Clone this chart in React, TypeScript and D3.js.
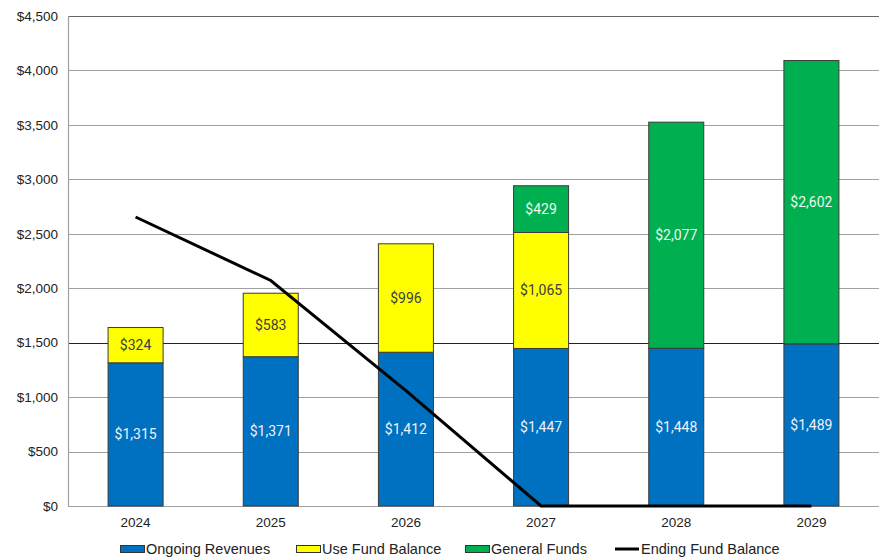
import { useEffect, useRef } from 'react';
import * as d3 from 'd3';

const years = ['2024', '2025', '2026', '2027', '2028', '2029'];
const ongoingRevenues = [1315, 1371, 1412, 1447, 1448, 1489];
const useFundBalance = [324, 583, 996, 1065, 0, 0];
const generalFunds = [0, 0, 0, 429, 2077, 2602];
const endingFundBalance = [2654, 2071, 1060, 0, 0, 0];
const yTicks = [0, 500, 1000, 1500, 2000, 2500, 3000, 3500, 4000, 4500];

const W = 884, H = 558;
const M = { left: 68, right: 5, top: 16, bottom: 52 };
const FONT = '"Liberation Sans", Arial, sans-serif';
const LABEL_FONT = 'Roboto, "Noto Sans", sans-serif';

const SERIES = [
  { name: 'Ongoing Revenues', values: ongoingRevenues, color: '#0070C0', text: '#eef2f8' },
  { name: 'Use Fund Balance', values: useFundBalance, color: '#FFFF00', text: '#404040' },
  { name: 'General Funds', values: generalFunds, color: '#00B050', text: '#eef6ee' },
];

export default function App() {
  const svgRef = useRef<SVGSVGElement | null>(null);

  useEffect(() => {
    const svg = d3.select(svgRef.current);
    svg.selectAll('*').remove();

    const x = d3
      .scaleBand<string>()
      .domain(years)
      .range([M.left, W - M.right])
      .paddingInner(0.593)
      .paddingOuter(0.2965);
    const y = d3.scaleLinear().domain([0, 4500]).range([H - M.bottom, M.top]);

    // gridlines
    svg
      .append('g')
      .selectAll('line')
      .data(yTicks)
      .join('line')
      .attr('x1', M.left)
      .attr('x2', W - M.right)
      .attr('y1', (d) => Math.round(y(d)) + 0.5)
      .attr('y2', (d) => Math.round(y(d)) + 0.5)
      .attr('stroke', (d) => (d === 1500 ? '#222' : d === 4500 ? '#666' : '#a0a0a0'))
      .attr('stroke-width', 1.2);

    svg
      .append('line')
      .attr('x1', M.left + 0.5)
      .attr('x2', M.left + 0.5)
      .attr('y1', y(4500))
      .attr('y2', y(0))
      .attr('stroke', '#a0a0a0')
      .attr('stroke-width', 1.2);

    // y tick labels
    svg
      .append('g')
      .selectAll('text')
      .data(yTicks)
      .join('text')
      .attr('x', M.left - 10)
      .attr('y', (d) => y(d))
      .attr('dy', '0.35em')
      .attr('text-anchor', 'end')
      .attr('font-family', FONT)
      .attr('font-size', 13.5)
      .attr('fill', '#222')
      .text((d) => d3.format('$,')(d));

    // x labels
    svg
      .append('g')
      .selectAll('text')
      .data(years)
      .join('text')
      .attr('x', (d) => x(d)! + x.bandwidth() / 2)
      .attr('y', y(0) + 21)
      .attr('text-anchor', 'middle')
      .attr('font-family', FONT)
      .attr('font-size', 13.5)
      .attr('fill', '#222')
      .text((d) => d);

    // stacked bars
    const rows = years.map((yr, i) => {
      const r: Record<string, number | string> = { year: yr };
      SERIES.forEach((s) => (r[s.name] = s.values[i]));
      return r;
    });
    const stack = d3.stack<any>().keys(SERIES.map((s) => s.name));
    const layers = stack(rows);

    layers.forEach((layer, li) => {
      const s = SERIES[li];
      const g = svg.append('g');
      const segs = layer
        .map((d, i) => ({ y0: d[0], y1: d[1], year: years[i], v: s.values[i] }))
        .filter((d) => d.v > 0);
      g.selectAll('rect')
        .data(segs)
        .join('rect')
        .attr('x', (d) => x(d.year)!)
        .attr('y', (d) => y(d.y1))
        .attr('width', x.bandwidth())
        .attr('height', (d) => y(d.y0) - y(d.y1))
        .attr('fill', s.color)
        .attr('stroke', '#3a3a3a')
        .attr('stroke-width', 1);
      g.selectAll('text')
        .data(segs)
        .join('text')
        .attr('x', (d) => x(d.year)! + x.bandwidth() / 2)
        .attr('y', (d) => (y(d.y0) + y(d.y1)) / 2)
        .attr('dy', '0.36em')
        .attr('text-anchor', 'middle')
        .attr('font-family', LABEL_FONT)
        .attr('font-size', 14)
        .attr('fill', s.text)
        .text((d) => d3.format('$,')(d.v));
    });

    // ending fund balance line
    const line = d3
      .line<number>()
      .x((_, i) => x(years[i])! + x.bandwidth() / 2)
      .y((d) => y(d));
    svg
      .append('path')
      .datum(endingFundBalance)
      .attr('d', line)
      .attr('fill', 'none')
      .attr('stroke', '#000')
      .attr('stroke-width', 3);

    // legend
    const legendItems = [
      ...SERIES.map((s) => ({ name: s.name, color: s.color, type: 'rect' })),
      { name: 'Ending Fund Balance', color: '#000', type: 'line' },
    ];
    const legendX = [120, 296, 465, 615];
    const ly = 549;
    legendItems.forEach((item, i) => {
      const g = svg.append('g').attr('transform', `translate(${legendX[i]},${ly})`);
      if (item.type === 'rect') {
        g.append('rect')
          .attr('x', 0.5)
          .attr('y', -3.5)
          .attr('width', 24)
          .attr('height', 7)
          .attr('fill', item.color)
          .attr('stroke', '#333')
          .attr('stroke-width', 1);
      } else {
        g.append('line')
          .attr('x1', 0)
          .attr('x2', 24)
          .attr('y1', 0)
          .attr('y2', 0)
          .attr('stroke', '#000')
          .attr('stroke-width', 3);
      }
      g.append('text')
        .attr('x', 26)
        .attr('y', 0)
        .attr('dy', '0.35em')
        .attr('font-family', FONT)
        .attr('font-size', 14.5)
        .attr('fill', '#222')
        .text(item.name);
    });
  }, []);

  return <svg ref={svgRef} width={W} height={H} style={{ position: 'absolute', left: 0, top: 0 }} />;
}
